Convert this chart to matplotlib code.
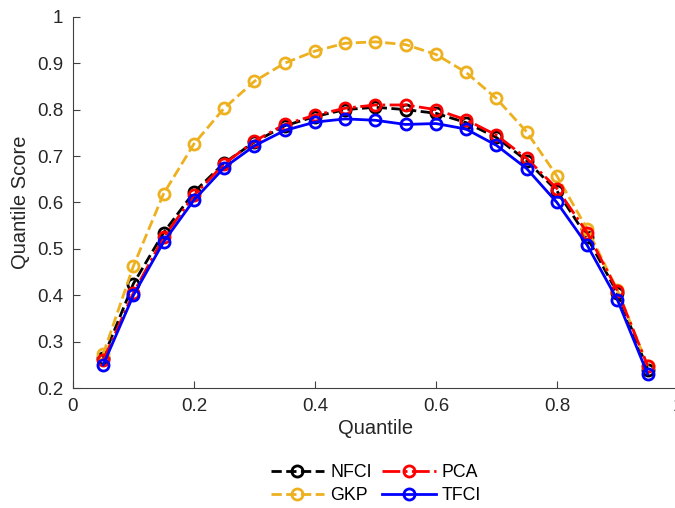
import matplotlib

matplotlib.use('Agg')
import matplotlib.pyplot as plt
from matplotlib.ticker import FuncFormatter

plt.rcParams['font.family'] = ['Liberation Sans', 'DejaVu Sans']

quantiles = [0.05, 0.10, 0.15, 0.20, 0.25, 0.30, 0.35, 0.40, 0.45, 0.50,
             0.55, 0.60, 0.65, 0.70, 0.75, 0.80, 0.85, 0.90, 0.95]

nfci = [0.265, 0.425, 0.535, 0.622, 0.685, 0.730, 0.765, 0.785, 0.800, 0.805,
        0.800, 0.792, 0.772, 0.740, 0.690, 0.625, 0.525, 0.405, 0.240]
gkp = [0.273, 0.463, 0.619, 0.726, 0.803, 0.861, 0.900, 0.926, 0.943, 0.946,
       0.940, 0.919, 0.880, 0.824, 0.752, 0.657, 0.543, 0.411, 0.248]
pca = [0.260, 0.405, 0.525, 0.615, 0.683, 0.732, 0.768, 0.788, 0.803, 0.810,
       0.810, 0.800, 0.778, 0.745, 0.695, 0.630, 0.535, 0.410, 0.248]
tfci = [0.250, 0.400, 0.515, 0.605, 0.675, 0.722, 0.755, 0.773, 0.780, 0.777,
        0.768, 0.770, 0.758, 0.723, 0.673, 0.600, 0.508, 0.390, 0.230]

series = [
    ('NFCI', nfci, 'black', '--'),
    ('GKP', gkp, '#EDB120', '--'),
    ('PCA', pca, 'red', '-.'),
    ('TFCI', tfci, 'blue', '-'),
]

fig = plt.figure(figsize=(6.75, 5.08), dpi=100)
ax = fig.add_axes([0.108, 0.236, 0.8963, 0.731])

for name, vals, color, ls in series:
    ax.plot(quantiles, vals, linestyle=ls, color=color, linewidth=2,
            marker='o', markersize=8, markerfacecolor='none',
            markeredgewidth=2, label=name)

ax.set_xlim(0, 1)
ax.set_ylim(0.2, 1)
ax.set_xticks([0, 0.2, 0.4, 0.6, 0.8, 1])
ax.set_yticks([0.2, 0.3, 0.4, 0.5, 0.6, 0.7, 0.8, 0.9, 1])
fmt = FuncFormatter(lambda v, _: f'{v:g}')
ax.xaxis.set_major_formatter(fmt)
ax.yaxis.set_major_formatter(fmt)

for side in ('top', 'right'):
    ax.spines[side].set_visible(False)
for side in ('left', 'bottom'):
    ax.spines[side].set_color('#404040')
    ax.spines[side].set_linewidth(0.8)
ax.tick_params(direction='in', length=5, width=0.8, color='#404040',
               labelsize=13.5, labelcolor='#262626', pad=7)

ax.set_xlabel('Quantile', fontsize=14.5, color='#262626', labelpad=3)
ax.set_ylabel('Quantile Score', fontsize=14.5, color='#262626', labelpad=5)

fig.legend(loc='center', bbox_to_anchor=(0.557, 0.047), ncol=2, frameon=False,
           fontsize=12.8, handlelength=3.0, columnspacing=0.6,
           handletextpad=0.35, labelspacing=0.32, borderpad=0)

fig.savefig('out.png', dpi=100)
